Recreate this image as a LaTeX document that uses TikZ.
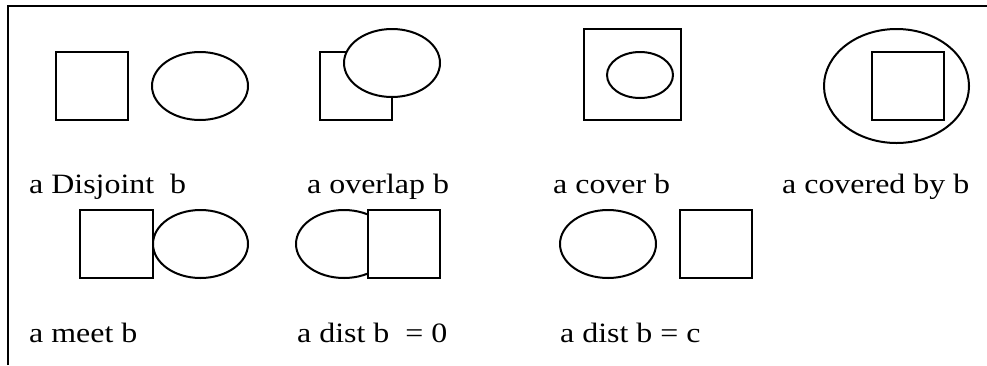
\documentclass[tikz,border=0pt]{standalone}
\usepackage{fontspec}
\setmainfont{Liberation Serif}[FakeStretch=1.14]
\usepackage{tikz}
\usetikzlibrary{shapes.geometric}
\tikzset{
  sq/.style={rectangle, draw=black, line width=2pt, inner sep=0pt, minimum width=72pt, minimum height=68pt},
  ell/.style={ellipse, draw=black, line width=2pt, inner sep=0pt, minimum width=96pt, minimum height=68pt},
  lbl/.style={anchor=base west, inner sep=0pt, font=\fontsize{28}{34}\selectfont},
  frame/.style={line width=2.4pt},
}
\begin{document}
\begin{tikzpicture}[x=1pt, y=-1pt]
\useasboundingbox (0,0) rectangle (987,365);
\draw[frame] (8,365) -- (8,6) -- (987,6);
% disjoint
\node[sq] (dsq) at (92,86) {};
\node[ell] (del) at (200,86) {};
% overlap
\node[sq] (osq) at (356,86) {};
\node[ell, fill=white] (oel) at (392,63) {};
% cover
\node[sq, minimum width=97pt, minimum height=91pt] (csq) at (632.5,74.5) {};
\node[ell, minimum width=66pt, minimum height=46pt] (cel) at (640,75) {};
% covered by
\node[ell, minimum width=145pt, minimum height=114pt] (bel) at (896.5,86) {};
\node[sq] (bsq) at (908,86) {};
% meet
\node[sq, minimum width=73pt] (msq) at (116.5,244) {};
\node[ell, minimum width=95pt] (mel) at (200.5,244) {};
% dist 0
\node[ell] (zel) at (344,244) {};
\node[sq, fill=white] (zsq) at (404,244) {};
% dist c
\node[ell] (kel) at (608,244) {};
\node[sq] (ksq) at (716,244) {};
% labels
\node[lbl] (ldis) at (29,193) {a Disjoint\ \ b};
\node[lbl] (lovr) at (307,193) {a overlap b};
\node[lbl] (lcov) at (553,193) {a cover b};
\node[lbl] (lcby) at (782,193) {a covered by b};
\node[lbl] (lmet) at (29,342) {a meet b};
\node[lbl] (lzer) at (297,342) {a dist b\ \ = 0};
\node[lbl] (ldst) at (560,342) {a dist b = c};
\end{tikzpicture}
\end{document}
